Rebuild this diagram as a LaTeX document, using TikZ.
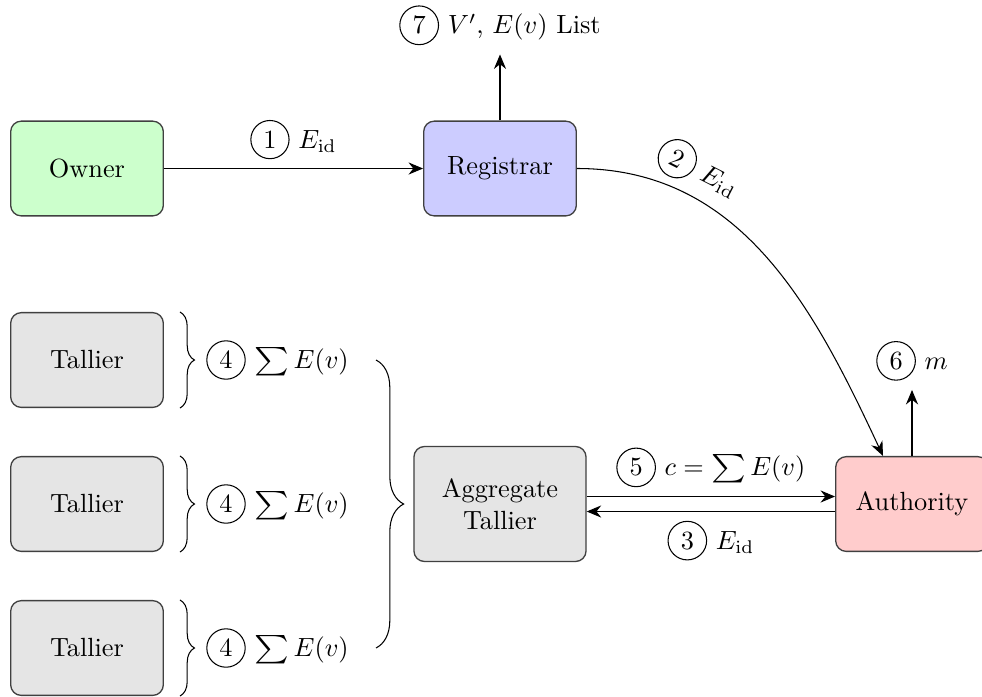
\documentclass[tikz,border=0pt]{standalone}
\usetikzlibrary{arrows.meta,decorations.pathreplacing,calc}
\newcommand\circnum[1]{\tikz[baseline=(cn.base)]\node[draw,circle,inner sep=2.2pt,line width=0.4pt](cn){#1};}
\newcommand\Sumop{\mathop{\scalebox{1.25}[1.08]{$\sum$}}}
\begin{document}
\begin{tikzpicture}[x=0.38pt,y=0.38pt,
  box/.style={draw=black!75,line width=0.5pt,rounded corners=4pt,minimum width=58pt,minimum height=36pt,inner sep=0pt,align=center},
  arr/.style={-{Stealth[length=5.5pt,width=4.6pt,inset=1.8pt]},line width=0.4pt},
  bracebig/.style={decorate,decoration={brace,amplitude=10.5pt},line width=0.4pt},
  bracesmall/.style={decorate,decoration={brace,amplitude=5.5pt},line width=0.4pt}]
\useasboundingbox (0,0) rectangle (982,696);
% boxes
\node[box,fill=green!20] (owner) at (87,527.5) {Owner};
\node[box,fill=blue!20] (reg) at (500,527.5) {Registrar};
\node[box,fill=black!10] (t1) at (87,336) {Tallier};
\node[box,fill=black!10] (t2) at (87,192) {Tallier};
\node[box,fill=black!10] (t3) at (87,48) {Tallier};
\node[box,fill=black!10,minimum width=65.4pt,minimum height=43.7pt] (agg) at (500,192) {Aggregate\\Tallier};
\node[box,fill=red!20] (auth) at (912,192) {Authority};
% arrows
\draw[arr] (owner) -- node[above] (lab1) {\circnum{1} $E_{\mathrm{id}}$} (reg);
\draw[arr] (reg.north) -- ++(0,66) node[above] (lab7) {\circnum{7} $V'$, $E(v)$ List};
\draw[arr] (reg.east) to[out=0,in=115] node[pos=0.255,sloped,above,inner sep=2.6pt] (lab2) {\circnum{2} $E_{\mathrm{id}}$} ($(auth.north)+(-29,0)$);
\draw[arr] (auth.north) -- ++(0,66) node[above] (lab6) {\circnum{6} $m$};
\draw[arr] ($(agg.east)+(0,7.5)$) -- node[above] (lab5) {\circnum{5} $c=\Sumop E(v)$} ($(auth.west)+(0,7.5)$);
\draw[arr] ($(auth.west)+(0,-7.5)$) -- node[below] (lab3) {\circnum{3} $E_{\mathrm{id}}$} ($(agg.east)+(0,-7.5)$);
% tallier labels
\node (l1) at (277.5,336) {\circnum{4} $\Sumop E(v)$};
\node (l2) at (277.5,192) {\circnum{4} $\Sumop E(v)$};
\node (l3) at (277.5,48) {\circnum{4} $\Sumop E(v)$};
% braces
\draw[bracesmall] ($(t1.north east)+(16,0)$) -- ($(t1.south east)+(16,0)$);
\draw[bracesmall] ($(t2.north east)+(16,0)$) -- ($(t2.south east)+(16,0)$);
\draw[bracesmall] ($(t3.north east)+(16,0)$) -- ($(t3.south east)+(16,0)$);
\draw[bracebig] ($(l1.east)+(18,0)$) -- ($(l3.east)+(18,0)$);
\end{tikzpicture}
\end{document}
